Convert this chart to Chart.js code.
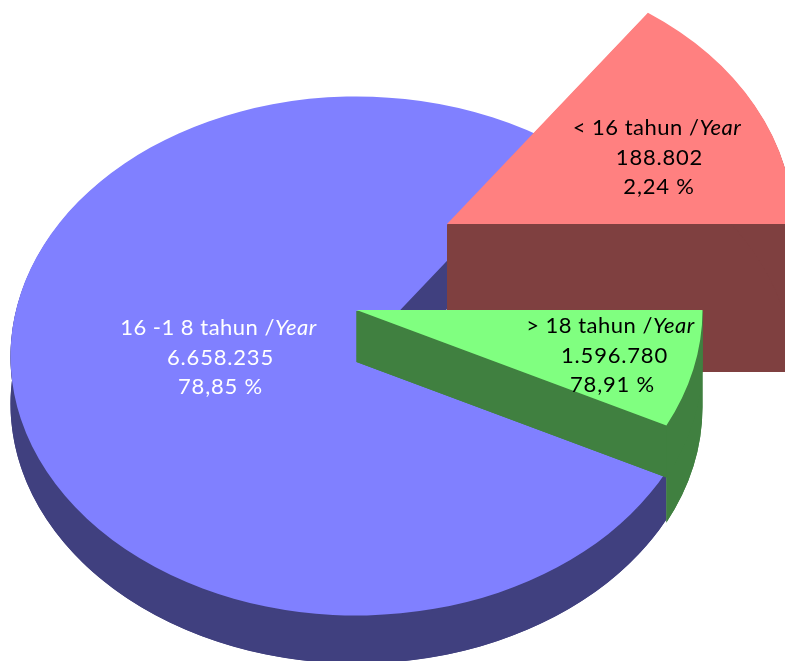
<!DOCTYPE html>
<html>
<head>
<meta charset="utf-8">
<style>html,body{margin:0;padding:0;background:#fff;overflow:hidden}canvas{display:block}</style>
<script src="https://cdn.jsdelivr.net/npm/chart.js@4"></script>
</head>
<body>
<canvas id="c" width="785" height="661"></canvas>
<script>
// Slice order: red, green, blue (clockwise from the upper edge of the red slice)
const categories = ['< 16 tahun /', '> 18 tahun /', '16 -1 8 tahun /'];
const yearWord = 'Year';
const countLabels = ['188.802', '1.596.780', '6.658.235'];
const percentLabels = ['2,24 %', '78,91 %', '78,85 %'];
// Slice sizes as drawn in the picture (degrees of the un-tilted pie)
const drawnDegrees = [54.5, 26.4, 279.1];

const topColors = ['#FF8080', '#80FF80', '#8080FF'];
const wallColors = ['#7F4040', '#408040', '#40407F'];
const textColors = ['#000000', '#000000', '#FFFFFF'];
const apexes = [[447, 224], [356.5, 310], [356.5, 356]];
const depths = [148, 52, 48];
const GREEN_OUTER_DEPTH = 97;
const labelX = [[657, 659.5, 659], [610.5, 614.5, 612.5], [218.5, 220.5, 220.5]];
const labelY = [135, 333, 335];
const TILT = 0.75, RADIUS = 346, LINE_GAP = 29.5;
const FONT = '"Lato", "Carlito", sans-serif', FONT_SIZE = 22;
const RED = 0, GREEN = 1, BLUE = 2;
const WALL_INSET = 1;

const tiltedPie = {
  id: 'tiltedPie',
  beforeDatasetDraw(chart) {
    const ctx = chart.ctx;
    const arcs = chart.getDatasetMeta(0).data;

    const wedge = (i, dy, color) => {
      const arc = arcs[i], base = arc.options;
      ctx.save();
      ctx.translate(apexes[i][0], apexes[i][1] + dy);
      ctx.scale(1, TILT);
      ctx.translate(-arc.x, -arc.y);
      arc.options = Object.assign({}, base, {backgroundColor: color, borderWidth: 0});
      arc.draw(ctx);
      arc.options = base;
      ctx.restore();
    };

    // Side wall of a slice: bottom copy, the two cut faces and the rim band.
    // It starts just below the top face so no dark fringe shows round the top.
    const wall = (i, depth) => {
      const arc = arcs[i];
      const ax = apexes[i][0], ay = apexes[i][1] + WALL_INSET;
      const d = depth - WALL_INSET;
      const R = arc.outerRadius, Ry = R * TILT;
      const color = wallColors[i];
      const face = (angle) => {
        const px = ax + R * Math.cos(angle), py = ay + Ry * Math.sin(angle);
        ctx.beginPath();
        ctx.moveTo(ax, ay);
        ctx.lineTo(px, py);
        ctx.lineTo(px, py + d);
        ctx.lineTo(ax, ay + d);
        ctx.closePath();
        ctx.fill();
      };
      wedge(i, WALL_INSET, color);
      wedge(i, depth, color);
      ctx.save();
      ctx.fillStyle = color;
      face(arc.startAngle);
      face(arc.endAngle);
      ctx.beginPath();
      ctx.ellipse(ax, ay, R, Ry, 0, arc.startAngle, arc.endAngle, false);
      ctx.ellipse(ax, ay + d, R, Ry, 0, arc.endAngle, arc.startAngle, true);
      ctx.closePath();
      ctx.fill();
      ctx.restore();
    };

    wall(BLUE, depths[BLUE]);
    wedge(BLUE, 0, topColors[BLUE]);
    wall(RED, depths[RED]);
    wedge(RED, 0, topColors[RED]);

    // The green wall runs deeper to the right of the blue slice's rim point
    const blueRimX = apexes[BLUE][0] + arcs[BLUE].outerRadius * Math.cos(arcs[BLUE].startAngle);
    ctx.save();
    ctx.beginPath();
    ctx.rect(blueRimX, 0, chart.width - blueRimX, chart.height);
    ctx.clip();
    wall(GREEN, GREEN_OUTER_DEPTH);
    ctx.restore();

    wall(GREEN, depths[GREEN]);
    wedge(GREEN, 0, topColors[GREEN]);
    return false;
  },
  afterDraw(chart) {
    const ctx = chart.ctx;
    ctx.save();
    ctx.textBaseline = 'alphabetic';
    ctx.textAlign = 'left';
    categories.forEach((cat, i) => {
      const by = labelY[i];
      ctx.fillStyle = textColors[i];
      const normal = `${FONT_SIZE}px ${FONT}`, italic = `italic ${FONT_SIZE}px ${FONT}`;
      ctx.letterSpacing = '0.5px';
      ctx.font = normal; const w1 = ctx.measureText(cat).width;
      ctx.font = italic; const w2 = ctx.measureText(yearWord).width;
      const x = labelX[i][0] - (w1 + w2) / 2;
      ctx.font = normal; ctx.fillText(cat, x, by);
      ctx.font = italic; ctx.fillText(yearWord, x + w1, by);
      ctx.font = normal;
      ctx.letterSpacing = '0.8px';
      ctx.textAlign = 'center';
      ctx.fillText(countLabels[i], labelX[i][1], by + LINE_GAP);
      ctx.fillText(percentLabels[i], labelX[i][2], by + 2 * LINE_GAP);
      ctx.textAlign = 'left';
    });
    ctx.restore();
  }
};

new Chart(document.getElementById('c'), {
  type: 'pie',
  data: {
    labels: categories,
    datasets: [{data: drawnDegrees, backgroundColor: topColors, borderWidth: 0}]
  },
  options: {
    responsive: false,
    animation: false,
    radius: RADIUS,
    rotation: 35.5,
    plugins: {legend: {display: false}, tooltip: {enabled: false}, title: {display: false}}
  },
  plugins: [tiltedPie]
});
</script>
</body>
</html>
